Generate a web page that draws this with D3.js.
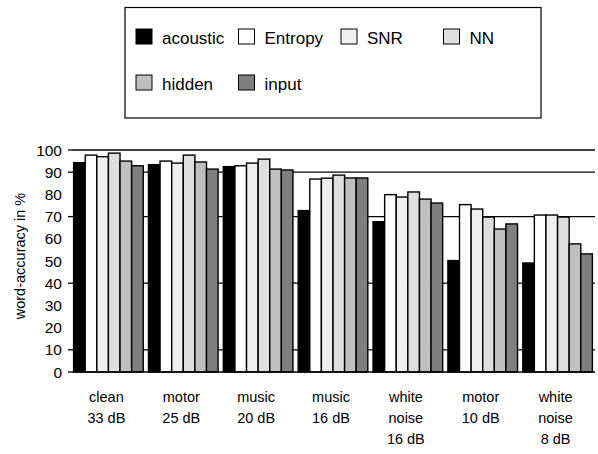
<!DOCTYPE html>
<html>
<head>
<meta charset="utf-8">
<script src="https://cdn.jsdelivr.net/npm/d3@7"></script>
<style>
  body { margin: 0; background: #fff; }
  text { font-family: "Liberation Sans", Arial, sans-serif; fill: #000; }
</style>
</head>
<body>
<script>
// data
var categories = [
  ["clean", "33 dB"],
  ["motor", "25 dB"],
  ["music", "20 dB"],
  ["music", "16 dB"],
  ["white", "noise", "16 dB"],
  ["motor", "10 dB"],
  ["white", "noise", "8 dB"]
];
var seriesNames = ["acoustic", "Entropy", "SNR", "NN", "hidden", "input"];
var acoustic = [94.3, 93.4, 92.5, 72.7, 67.7, 50.2, 49.1];
var entropy  = [97.7, 95.0, 92.9, 86.9, 79.9, 75.4, 70.7];
var snr      = [97.0, 94.1, 94.1, 87.3, 78.8, 73.4, 70.7];
var nn       = [98.6, 97.7, 95.9, 88.7, 81.1, 69.8, 69.8];
var hidden   = [95.0, 94.6, 91.4, 87.4, 77.9, 64.4, 57.7];
var input    = [92.9, 91.4, 91.0, 87.4, 76.1, 66.7, 53.2];
var yTicks = [0, 10, 20, 30, 40, 50, 60, 70, 80, 90, 100];
var gridTicks = [10, 40, 70, 90, 100];
var tickMarks = [0, 10, 40, 70, 90, 100];

var colors = ["#000000", "#ffffff", "#efefef", "#dfdfdf", "#bfbfbf", "#7f7f7f"];
var allSeries = [acoustic, entropy, snr, nn, hidden, input];

var svg = d3.select("body").append("svg")
  .attr("width", 598)
  .attr("height", 454);

var x0 = d3.scaleBand()
  .domain(d3.range(categories.length))
  .range([71, 595])
  .paddingInner(0.07)
  .paddingOuter(0.035);

var x1 = d3.scaleBand()
  .domain(d3.range(seriesNames.length))
  .range([0, x0.bandwidth()]);

var y = d3.scaleLinear()
  .domain([0, 100])
  .range([372, 150]);

var color = d3.scaleOrdinal()
  .domain(seriesNames)
  .range(colors);

// gridlines
svg.append("g")
  .selectAll("line")
  .data(gridTicks)
  .enter()
  .append("line")
  .attr("x1", 72)
  .attr("x2", 595)
  .attr("y1", function(d) { return y(d); })
  .attr("y2", function(d) { return y(d); })
  .attr("stroke", "#000")
  .attr("stroke-width", 1.3);

// y tick marks
svg.append("g")
  .selectAll("line")
  .data(tickMarks)
  .enter()
  .append("line")
  .attr("x1", 68)
  .attr("x2", 72)
  .attr("y1", function(d) { return y(d); })
  .attr("y2", function(d) { return y(d); })
  .attr("stroke", "#000")
  .attr("stroke-width", 1.3);

// y tick labels
svg.append("g")
  .selectAll("text")
  .data(yTicks)
  .enter()
  .append("text")
  .attr("x", 62)
  .attr("y", function(d) { return y(d) + 5.5; })
  .attr("text-anchor", "end")
  .style("font-size", "15.5px")
  .text(function(d) { return d; });

// bars
var groups = svg.selectAll("g.grp")
  .data(categories)
  .enter()
  .append("g")
  .attr("class", "grp")
  .attr("transform", function(d, i) { return "translate(" + x0(i) + ",0)"; });

groups.selectAll("rect")
  .data(function(d, i) {
    return allSeries.map(function(s, k) { return {k: k, v: s[i]}; });
  })
  .enter()
  .append("rect")
  .attr("x", function(d) { return x1(d.k); })
  .attr("y", function(d) { return y(d.v); })
  .attr("width", x1.bandwidth())
  .attr("height", function(d) { return y(0) - y(d.v); })
  .attr("fill", function(d) { return color(seriesNames[d.k]); })
  .attr("stroke", "#000")
  .attr("stroke-width", 1.4);

// baseline
svg.append("line")
  .attr("x1", 72).attr("x2", 595)
  .attr("y1", y(0)).attr("y2", y(0))
  .attr("stroke", "#000")
  .attr("stroke-width", 1.3);

// category labels
groups.selectAll("text")
  .data(function(d) { return d; })
  .enter()
  .append("text")
  .attr("x", x0.bandwidth() / 2 - 2)
  .attr("y", function(d, j) { return 402 + j * 21; })
  .attr("text-anchor", "middle")
  .style("font-size", "14.5px")
  .text(function(d) { return d; });

// y axis title
svg.append("text")
  .attr("transform", "translate(25,256) rotate(-90)")
  .attr("text-anchor", "middle")
  .style("font-size", "14.5px")
  .text("word-accuracy in %");

// legend
var legend = svg.append("g");
legend.append("rect")
  .attr("x", 125).attr("y", 7.5)
  .attr("width", 416).attr("height", 110.5)
  .attr("fill", "none")
  .attr("stroke", "#000")
  .attr("stroke-width", 1.2);

var legendItems = legend.selectAll("g.item")
  .data(seriesNames)
  .enter()
  .append("g")
  .attr("class", "item")
  .attr("transform", function(d, i) {
    return "translate(" + (136 + (i % 4) * 102.5) + "," + (29 + Math.floor(i / 4) * 46) + ")";
  });

legendItems.append("rect")
  .attr("width", 16).attr("height", 15)
  .attr("fill", function(d) { return color(d); })
  .attr("stroke", "#000")
  .attr("stroke-width", 1);

legendItems.append("text")
  .attr("x", 26)
  .attr("y", 15)
  .style("font-size", "17px")
  .text(function(d) { return d; });
</script>
</body>
</html>
